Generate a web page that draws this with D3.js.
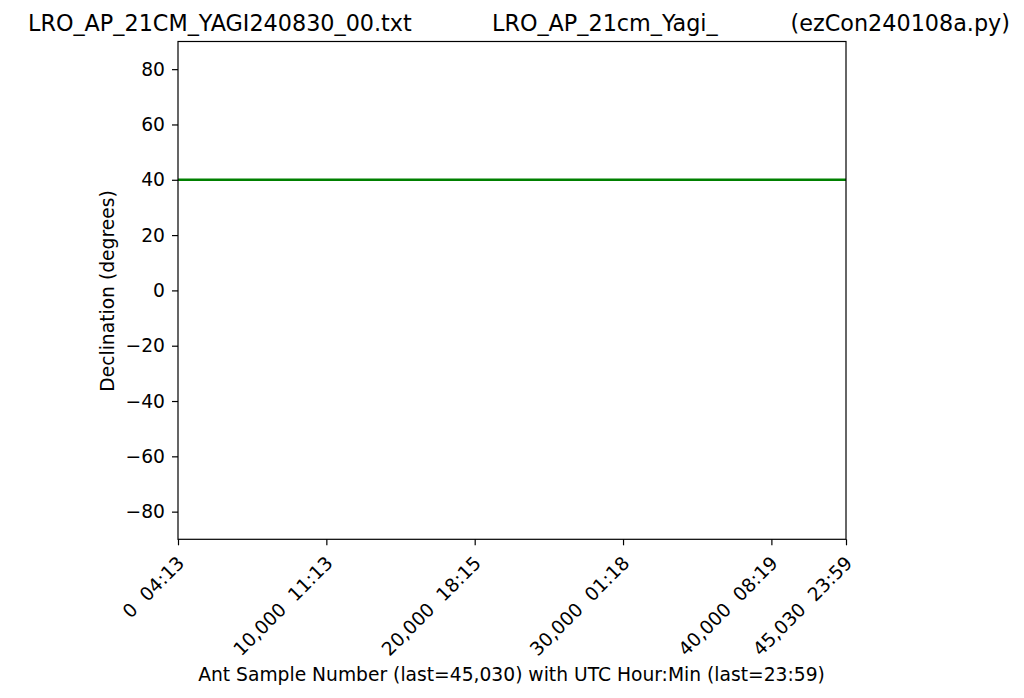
<!DOCTYPE html>
<html><head><meta charset="utf-8">
<script src="https://cdn.jsdelivr.net/npm/d3@7"></script>
<style>body{margin:0;background:#fff}svg{display:block}text{font-family:"DejaVu Sans",sans-serif;fill:#000}</style>
</head><body><svg id="c" width="1024" height="698"></svg>
<script>
const titleParts = ["LRO_AP_21CM_YAGI240830_00.txt", "LRO_AP_21cm_Yagi_", "(ezCon240108a.py)"];
const xTickValues = [0, 10000, 20000, 30000, 40000, 45030];
const xTickLabels = ["0  04:13", "10,000  11:13", "20,000  18:15", "30,000  01:18", "40,000  08:19", "45,030  23:59"];
const yTickValues = [80, 60, 40, 20, 0, -20, -40, -60, -80];
const sampleX = [0, 45030];
const declination = [40, 40];
const xLabel = "Ant Sample Number (last=45,030) with UTC Hour:Min (last=23:59)";
const yLabel = "Declination (degrees)";

const svg = d3.select("#c");
const L = 178, R = 846, T = 41.5, B = 539.3;
const x = d3.scaleLinear().domain([0, 45030]).range([L, R]);
const y = d3.scaleLinear().domain([-90, 90]).range([B, T]);
const FS = "18.7px";

// line
svg.append("path")
  .datum(sampleX.map((s, i) => [s, declination[i]]))
  .attr("d", d3.line().x(d => x(d[0])).y(d => y(d[1])))
  .attr("stroke", "#008000").attr("stroke-width", 2.6).attr("fill", "none");

// frame
svg.append("rect").attr("x", L).attr("y", T).attr("width", R - L).attr("height", B - T)
  .attr("fill", "none").attr("stroke", "#000").attr("stroke-width", 1.2);

// y axis
const ya = svg.append("g").attr("transform", `translate(${L},0)`)
  .call(d3.axisLeft(y).tickValues(yTickValues).tickSize(6).tickPadding(7)
    .tickFormat(d => d < 0 ? "\u2212" + Math.abs(d) : d));
ya.select(".domain").remove();
ya.selectAll("line").attr("stroke", "#000").attr("stroke-width", 1.2);
ya.selectAll("text").style("font-size", FS);

// x axis
const xa = svg.append("g").attr("transform", `translate(0,${B})`)
  .call(d3.axisBottom(x).tickValues(xTickValues).tickSize(6).tickFormat((d, i) => xTickLabels[i]));
xa.select(".domain").remove();
xa.selectAll("line").attr("stroke", "#000").attr("stroke-width", 1.2);
xa.selectAll("text")
  .style("font-size", FS).style("white-space", "pre")
  .attr("text-anchor", "end").attr("dy", null).attr("y", null)
  .attr("transform", "translate(7,25) rotate(-45)");

// labels
svg.append("text").attr("x", 511.5).attr("y", 681).attr("text-anchor", "middle")
  .style("font-size", FS).text(xLabel);
svg.append("text").attr("transform", "translate(114,291) rotate(-90)").attr("text-anchor", "middle")
  .style("font-size", FS).text(yLabel);

// title
const TS = "22.3px";
svg.append("text").attr("x", 28).attr("y", 31).style("font-size", TS).text(titleParts[0]);
svg.append("text").attr("x", 492).attr("y", 31).style("font-size", TS).text(titleParts[1]);
svg.append("text").attr("x", 1010).attr("y", 31).attr("text-anchor", "end").style("font-size", TS).text(titleParts[2]);
</script></body></html>
